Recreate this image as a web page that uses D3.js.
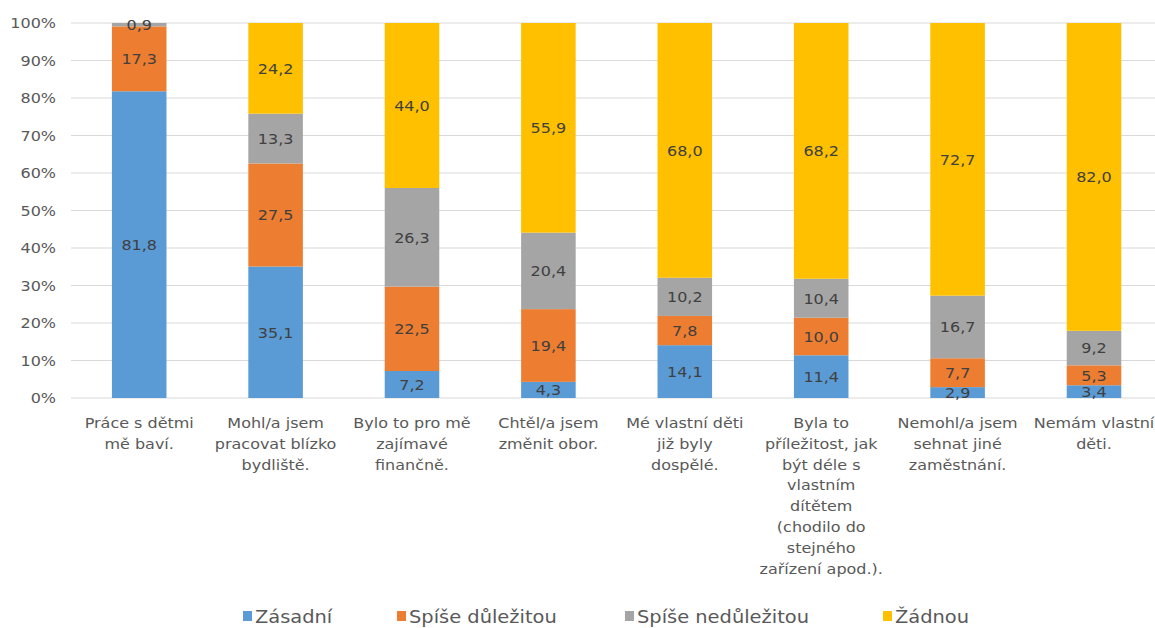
<!DOCTYPE html>
<html><head><meta charset="utf-8">
<script src="https://cdn.jsdelivr.net/npm/d3@7"></script>
<style>
html,body{margin:0;padding:0;background:#fff;overflow:hidden}
svg{display:block;font-family:"DejaVu Sans",Verdana,sans-serif}
</style></head><body>
<svg id="c" width="1155" height="628"></svg>
<script>
const categories = [
  ["Práce s dětmi","mě baví."],
  ["Mohl/a jsem","pracovat blízko","bydliště."],
  ["Bylo to pro mě","zajímavé","finančně."],
  ["Chtěl/a jsem","změnit obor."],
  ["Mé vlastní děti","již byly","dospělé."],
  ["Byla to","příležitost, jak","být déle s","vlastním","dítětem","(chodilo do","stejného","zařízení apod.)."],
  ["Nemohl/a jsem","sehnat jiné","zaměstnání."],
  ["Nemám vlastní","děti."]
];
const seriesNames = ["Zásadní","Spíše důležitou","Spíše nedůležitou","Žádnou"];
const zasadni   = [81.8, 35.1, 7.2, 4.3, 14.1, 11.4, 2.9, 3.4];
const spiseDul  = [17.3, 27.5, 22.5, 19.4, 7.8, 10.0, 7.7, 5.3];
const spiseNed  = [0.9, 13.3, 26.3, 20.4, 10.2, 10.4, 16.7, 9.2];
const zadnou    = [0, 24.2, 44.0, 55.9, 68.0, 68.2, 72.7, 82.0];
const yTicks = [0,10,20,30,40,50,60,70,80,90,100];
const colors = ["#5B9BD5","#ED7D31","#A5A5A5","#FFC000"];

(function(){
const series = [zasadni, spiseDul, spiseNed, zadnou];
const svg = d3.select("#c");
const SX = 1.08, FS = "14.8px";
const pLeft = 71, pTop = 23, pBottom = 398, step = 136.4;
const x = d3.scaleBand().domain(d3.range(categories.length)).range([pLeft, pLeft + step*categories.length]).paddingInner(0.6).paddingOuter(0.3);
const y = d3.scaleLinear().domain([0,100]).range([pBottom, pTop]);

svg.append("g").selectAll("line").data(yTicks).join("line")
  .attr("x1", pLeft).attr("x2", 1155)
  .attr("y1", d=>y(d)).attr("y2", d=>y(d))
  .attr("stroke","#D9D9D9").attr("stroke-width",1);

const yAxis = d3.axisLeft(y).tickValues(yTicks).tickFormat(d=>d+"%").tickSize(0).tickPadding(15);
const ya = svg.append("g").attr("transform",`translate(${pLeft},0)`).call(yAxis);
ya.select(".domain").remove();
ya.selectAll("text").attr("fill","#595959").style("font-size",FS).style("font-family","'DejaVu Sans',Verdana,sans-serif")
  .attr("x", -15/SX).attr("transform",`scale(${SX},1)`);

const rows = categories.map((c,i)=>{
  const o = {i}; const tot = series.reduce((s,a)=>s+a[i],0);
  series.forEach((a,k)=>o["s"+k] = a[i]/tot*100);
  o.raw = series.map(a=>a[i]);
  return o;
});
const stacked = d3.stack().keys([0,1,2,3].map(k=>"s"+k))(rows);

stacked.forEach((layer,k)=>{
  svg.append("g").selectAll("rect").data(layer).join("rect")
    .attr("x", d=>x(d.data.i)).attr("width", x.bandwidth())
    .attr("y", d=>y(d[1])).attr("height", d=>Math.max(0,y(d[0])-y(d[1])))
    .attr("fill", colors[k]);
});
stacked.forEach((layer,k)=>{
  svg.append("g").selectAll("text").data(layer.filter(d=>d.data.raw[k]>0)).join("text")
    .attr("transform", d=>`translate(${x(d.data.i)+x.bandwidth()/2},${(y(d[0])+y(d[1]))/2}) scale(${SX},1)`)
    .attr("dy","0.36em")
    .attr("text-anchor","middle")
    .attr("fill","#404040").style("font-size",FS)
    .text(d=>d.data.raw[k].toFixed(1).replace(".",","));
});

const cg = svg.append("g");
categories.forEach((lines,i)=>{
  const t = cg.append("text").attr("text-anchor","middle").attr("fill","#595959").style("font-size",FS)
    .attr("transform",`translate(${x(i)+x.bandwidth()/2},0) scale(${SX},1)`);
  lines.forEach((ln,j)=>{
    t.append("tspan").attr("x", 0).attr("y", 428 + j*20.8).text(ln);
  });
});

const legX = [243, 397, 625, 883];
const lg = svg.append("g");
seriesNames.forEach((n,k)=>{
  lg.append("rect").attr("x",legX[k]).attr("y",611).attr("width",9).attr("height",10).attr("fill",colors[k]);
  lg.append("text").attr("transform",`translate(${legX[k]+12},623) scale(${SX},1)`).attr("fill","#595959").style("font-size","18px").text(n);
});
})();
</script>
</body></html>
